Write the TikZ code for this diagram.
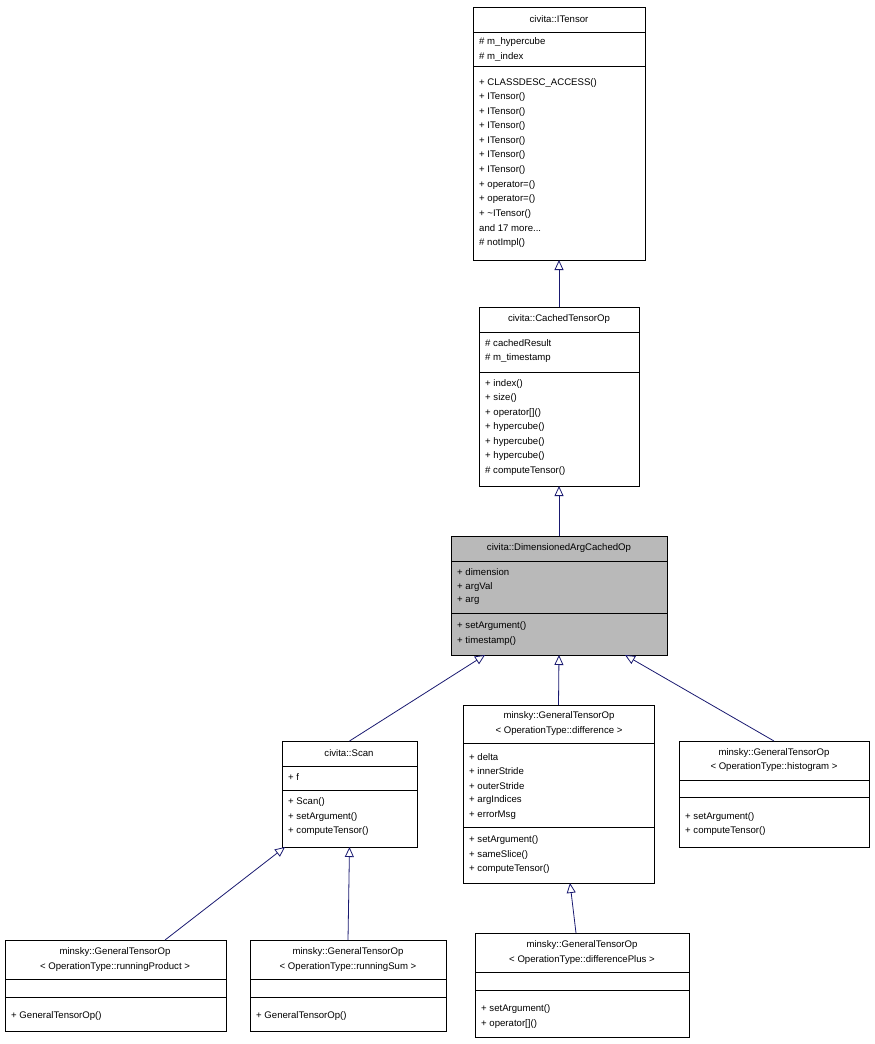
\documentclass[tikz,border=0pt]{standalone}
\usepackage{fontspec}
\setmainfont{Liberation Sans}
\usetikzlibrary{arrows.meta}
\definecolor{edge}{HTML}{191970}
\newcommand\cbox[6][white]{\node[draw=black,fill=#1,anchor=north west,minimum width={(#5-#3)*1pt},minimum height={(#6-#4)*1pt},inner sep=0pt,outer sep=0pt,line width=0.8pt] (#2) at (#3,#4) {};}
\newcommand\sep[3]{\draw[line width=0.8pt] (#1,#3) -- (#2,#3);}
\newcommand\tl[2]{\node[txt,anchor=west] at (#1) {#2};}
\newcommand\tc[2]{\node[txt] at (#1) {#2};}
\begin{document}
\begin{tikzpicture}[x=1pt,y=-1pt,
  txt/.style={inner sep=0pt,font=\fontsize{9.6}{11}\selectfont},
  inh/.style={draw=edge,line width=0.8pt,-{Triangle[open,length=10pt,width=9pt]}}]
\useasboundingbox (0,0) rectangle (875,1044);
% ITensor
\cbox{itensor}{473}{7}{645}{260}
\sep{473}{645}{32}\sep{473}{645}{66}
\tc{559,19}{civita::ITensor}
\tl{479,42}{\# m\_hypercube}\tl{479,57}{\# m\_index}
\tl{479,83}{+ CLASSDESC\_ACCESS()}
\tl{479,97}{+ ITensor()}\tl{479,112}{+ ITensor()}\tl{479,126}{+ ITensor()}
\tl{479,141}{+ ITensor()}\tl{479,155}{+ ITensor()}\tl{479,170}{+ ITensor()}
\tl{479,185}{+ operator=()}\tl{479,199}{+ operator=()}\tl{479,214}{+ \textasciitilde ITensor()}
\tl{479,228}{and 17 more...}\tl{479,243}{\# notImpl()}
% CachedTensorOp
\cbox{cached}{479}{307}{639}{486}
\sep{479}{639}{332}\sep{479}{639}{372}
\tc{559,319}{civita::CachedTensorOp}
\tl{485,343}{\# cachedResult}\tl{485,358}{\# m\_timestamp}
\tl{485,384}{+ index()}\tl{485,398}{+ size()}\tl{485,413}{+ operator[]()}
\tl{485,427}{+ hypercube()}\tl{485,442}{+ hypercube()}\tl{485,456}{+ hypercube()}
\tl{485,471}{\# computeTensor()}
% Dimensioned
\cbox[gray!55]{dim}{451}{536}{667}{655}
\sep{451}{667}{561}\sep{451}{667}{613}
\tc{559,548}{civita::DimensionedArgCachedOp}
\tl{457,572}{+ dimension}\tl{457,587}{+ argVal}\tl{457,601}{+ arg}
\tl{457,626}{+ setArgument()}\tl{457,641}{+ timestamp()}
% Scan
\cbox{scan}{282}{741}{417}{847}
\sep{282}{417}{766}\sep{282}{417}{790}
\tc{349,753}{civita::Scan}
\tl{288,777}{+ f}
\tl{288,802}{+ Scan()}\tl{288,817}{+ setArgument()}\tl{288,831}{+ computeTensor()}
% difference
\cbox{diff}{463}{705}{654}{883}
\sep{463}{654}{743}\sep{463}{654}{827}
\tc{559,716}{minsky::GeneralTensorOp}\tc{559,731}{< OperationType::difference >}
\tl{469,757}{+ delta}\tl{469,771}{+ innerStride}\tl{469,786}{+ outerStride}
\tl{469,800}{+ argIndices}\tl{469,815}{+ errorMsg}
\tl{469,840}{+ setArgument()}\tl{469,855}{+ sameSlice()}\tl{469,869}{+ computeTensor()}
% histogram
\cbox{hist}{679}{741}{869}{847}
\sep{679}{869}{780}\sep{679}{869}{797}
\tc{774,753}{minsky::GeneralTensorOp}\tc{774,767}{< OperationType::histogram >}
\tl{685,817}{+ setArgument()}\tl{685,831}{+ computeTensor()}
% runningProduct
\cbox{prod}{5}{940}{226}{1031}
\sep{5}{226}{979}\sep{5}{226}{997}
\tc{115,952}{minsky::GeneralTensorOp}\tc{115,967}{< OperationType::runningProduct >}
\tl{11,1016}{+ GeneralTensorOp()}
% runningSum
\cbox{sum}{250}{940}{446}{1031}
\sep{250}{446}{979}\sep{250}{446}{997}
\tc{348,952}{minsky::GeneralTensorOp}\tc{348,967}{< OperationType::runningSum >}
\tl{256,1016}{+ GeneralTensorOp()}
% differencePlus
\cbox{dplus}{475}{933}{689}{1037}
\sep{475}{689}{972}\sep{475}{689}{990}
\tc{582,945}{minsky::GeneralTensorOp}\tc{582,960}{< OperationType::differencePlus >}
\tl{481,1009}{+ setArgument()}\tl{481,1024}{+ operator[]()}
% edges
\coordinate (dimL) at (485,655);
\coordinate (dimR) at (625,655);
\coordinate (scanL) at (285,847);
\coordinate (diffB) at (570,883);
\coordinate (dplusT) at (576,933);
\coordinate (prodT) at (165,940);
\draw[inh] (cached.north) -- (itensor.south);
\draw[inh] (dim.north) -- (cached.south);
\draw[inh] (scan.north) -- (dimL);
\draw[inh] (diff.north) -- (dim.south);
\draw[inh] (hist.north) -- (dimR);
\draw[inh] (prodT) -- (scanL);
\draw[inh] (sum.north) -- (scan.south);
\draw[inh] (dplusT) -- (diffB);
\end{tikzpicture}
\end{document}
